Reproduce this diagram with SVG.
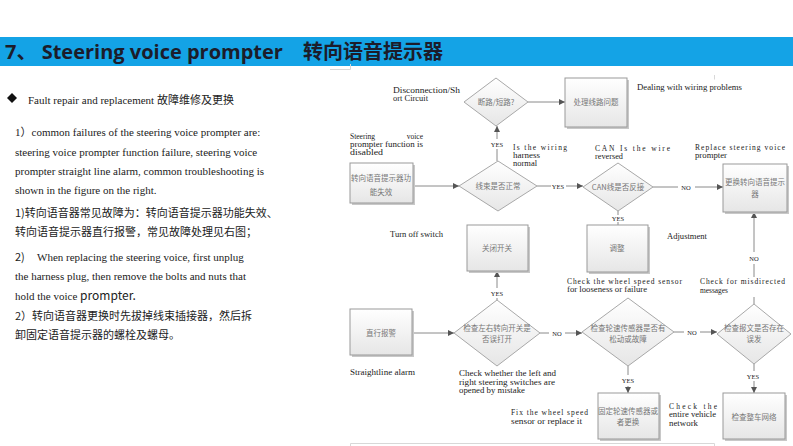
<svg xmlns="http://www.w3.org/2000/svg" width="793" height="446" viewBox="0 0 793 446">
<defs>
<linearGradient id="gb" x1="0" y1="0" x2="0" y2="1"><stop offset="0" stop-color="#ffffff"/><stop offset="1" stop-color="#e6e6e6"/></linearGradient>
<marker id="ah" viewBox="0 0 10 10" refX="10" refY="5" markerWidth="6" markerHeight="6" markerUnits="userSpaceOnUse" orient="auto"><path d="M0,0 L10,5 L0,10 z" fill="#555"/></marker>
<style>
.hd{font-family:"Open Sans","Noto Sans","Noto Sans CJK SC",sans-serif;font-weight:bold;font-size:20px;fill:#1c1c2a}
.en{font-family:"Liberation Serif","Noto Sans CJK SC",serif;font-size:11px;fill:#222}
.cn{font-family:"Noto Sans CJK SC","Noto Sans",sans-serif;font-size:11px;fill:#222}
.box{fill:url(#gb);stroke:#999;stroke-width:1}
.sh{fill:#c8c8c8}
.dia{fill:url(#gb);stroke:#a8a8a8;stroke-width:1}
.bt{font-family:"Noto Sans CJK SC",sans-serif;font-size:7.5px;fill:#777;text-anchor:middle}
.lb{font-family:"Liberation Serif",serif;font-size:7.5px;fill:#1a1a1a}
.yn{font-family:"Liberation Serif",serif;font-size:6.5px;fill:#222;text-anchor:middle}
.ln{fill:none;stroke:#8a8a8a;stroke-width:1}
.fr{fill:none;stroke:#d8d8d8;stroke-width:1}
</style>
</defs>
<rect width="793" height="446" fill="#ffffff"/>
<rect x="0" y="37" width="793" height="29" fill="#14a3e6"/>
<text class="hd" x="5" y="59">7、 Steering voice prompter<tspan x="303">转向语音提示器</tspan></text>

<g id="left-text">
<path d="M12,93 L17,98 L12,103 L7,98 z" fill="#111"/>
<text class="en" x="28" y="104">Fault repair and replacement <tspan class="cn">故障维修及更换</tspan></text>
<text class="en" x="15" y="136">1）common failures of the steering voice prompter are:</text>
<text class="en" x="15" y="156">steering voice prompter function failure, steering voice</text>
<text class="en" x="15" y="175">prompter straight line alarm, common troubleshooting is</text>
<text class="en" x="15" y="194">shown in the figure on the right.</text>
<text class="cn" x="15" y="217">1)转向语音器常见故障为：转向语音提示器功能失效、</text>
<text class="cn" x="15" y="236">转向语音提示器直行报警，常见故障处理见右图；</text>
<text class="en" x="15" y="261"><tspan class="cn">2)</tspan><tspan x="37">When replacing the steering voice, first unplug</tspan></text>
<text class="en" x="15" y="280">the harness plug, then remove the bolts and nuts that</text>
<text class="en" x="15" y="300">hold the voice <tspan class="cn" style="font-size:12px">prompter.</tspan></text>
<text class="cn" x="15" y="320">2）转向语音器更换时先拔掉线束插接器，然后拆</text>
<text class="cn" x="15" y="339">卸固定语音提示器的螺栓及螺母。</text>
</g>

<g id="frame">
<path class="fr" d="M330,69.5 H350.5 V64 M714.5,75 V79.5 M350.5,446 V443.5 H714.5 V446"/>
</g>

<g id="connectors">
<line class="ln" x1="528" y1="102" x2="565" y2="102" marker-end="url(#ah)"/>
<line class="ln" x1="413" y1="186" x2="459" y2="186" marker-end="url(#ah)"/>
<line class="ln" x1="497" y1="161" x2="497" y2="149"/>
<line class="ln" x1="497" y1="139" x2="497" y2="126" marker-end="url(#ah)"/>
<line class="ln" x1="537" y1="186" x2="551" y2="186"/>
<line class="ln" x1="566" y1="186" x2="583" y2="186" marker-end="url(#ah)"/>
<line class="ln" x1="653" y1="187" x2="678" y2="187"/>
<line class="ln" x1="695" y1="187" x2="723" y2="187" marker-end="url(#ah)"/>
<line class="ln" x1="618" y1="211" x2="618" y2="215"/>
<line class="ln" x1="618" y1="222" x2="618" y2="225"/>
<line class="ln" x1="754" y1="252" x2="754" y2="212" marker-end="url(#ah)"/>
<line class="ln" x1="754" y1="264" x2="754" y2="277"/>
<line class="ln" x1="754" y1="297" x2="754" y2="304"/>
<line class="ln" x1="412" y1="333" x2="454" y2="333" marker-end="url(#ah)"/>
<line class="ln" x1="497" y1="300" x2="497" y2="298"/>
<line class="ln" x1="497" y1="288" x2="497" y2="271" marker-end="url(#ah)"/>
<line class="ln" x1="540" y1="333" x2="549" y2="333"/>
<line class="ln" x1="565" y1="333" x2="582" y2="333" marker-end="url(#ah)"/>
<line class="ln" x1="674" y1="332" x2="684" y2="332"/>
<line class="ln" x1="700" y1="332" x2="717" y2="332" marker-end="url(#ah)"/>
<line class="ln" x1="628" y1="366" x2="628" y2="375"/>
<line class="ln" x1="628" y1="386" x2="628" y2="393" marker-end="url(#ah)"/>
<line class="ln" x1="754" y1="364" x2="754" y2="371"/>
<line class="ln" x1="754" y1="381" x2="754" y2="393" marker-end="url(#ah)"/>
</g>

<g id="n-duanlu"><path class="dia" d="M496,78 L528,102 L496,126 L464,102 z"/><text class="bt" x="496" y="105">断路/短路?</text></g>
<g id="n-chuli"><rect class="sh" x="567" y="80" width="62" height="49"/><rect class="box" x="565" y="78" width="62" height="49"/><text class="bt" x="596" y="105">处理线路问题</text></g>
<g id="n-gongneng"><rect class="sh" x="352" y="165" width="63" height="40"/><rect class="box" x="350" y="163" width="63" height="40"/><text class="bt" x="381" y="181">转向语音提示器功</text><text class="bt" x="381" y="195">能失效</text></g>
<g id="n-xianshu"><path class="dia" d="M498,161 L537,186 L498,211 L459,186 z"/><text class="bt" x="498" y="189">线束是否正常</text></g>
<g id="n-can"><path class="dia" d="M618,163 L653,187 L618,211 L583,187 z"/><text class="bt" x="618" y="190">CAN线是否反接</text></g>
<g id="n-genghuan"><rect class="sh" x="725" y="166" width="64" height="48"/><rect class="box" x="723" y="164" width="64" height="48"/><text class="bt" x="755" y="185">更换转向语音提示</text><text class="bt" x="755" y="197">器</text></g>
<g id="n-tiaozheng"><rect class="sh" x="589" y="227" width="61" height="47"/><rect class="box" x="587" y="225" width="61" height="47"/><text class="bt" x="617" y="251">调整</text></g>
<g id="n-guanbi"><rect class="sh" x="469" y="227" width="61" height="46"/><rect class="box" x="467" y="225" width="61" height="46"/><text class="bt" x="497" y="251">关闭开关</text></g>
<g id="n-zhixing"><rect class="sh" x="352" y="311" width="62" height="46"/><rect class="box" x="350" y="309" width="62" height="46"/><text class="bt" x="381" y="336">直行报警</text></g>
<g id="n-kaiguan"><path class="dia" d="M497,300 L540,333 L497,366 L454,333 z"/><text class="bt" x="497" y="331">检查左右转向开关是</text><text class="bt" x="497" y="342">否误打开</text></g>
<g id="n-lunsu"><path class="dia" d="M628,298 L674,332 L628,366 L582,332 z"/><text class="bt" x="628" y="331">检查轮速传感器是否有</text><text class="bt" x="628" y="342">松动或故障</text></g>
<g id="n-baowen"><path class="dia" d="M754,304 L791,334 L754,364 L717,334 z"/><text class="bt" x="754" y="331">检查报文是否存在</text><text class="bt" x="754" y="342">误发</text></g>
<g id="n-guding"><rect class="sh" x="600" y="395" width="61" height="46"/><rect class="box" x="598" y="393" width="61" height="46"/><text class="bt" x="628" y="414">固定轮速传感器或</text><text class="bt" x="628" y="425">者更换</text></g>
<g id="n-wangluo"><rect class="sh" x="725" y="395" width="62" height="46"/><rect class="box" x="723" y="393" width="62" height="46"/><text class="bt" x="754" y="420">检查整车网络</text></g>

<g id="labels">
<text class="yn" x="497" y="146.5">YES</text>
<text class="yn" x="558" y="189">YES</text>
<text class="yn" x="686" y="189.5">NO</text>
<text class="yn" x="618" y="221">YES</text>
<text class="yn" x="754" y="260.5">NO</text>
<text class="yn" x="497" y="295.5">YES</text>
<text class="yn" x="557" y="335.5">NO</text>
<text class="yn" x="692" y="334.5">NO</text>
<text class="yn" x="628" y="383">YES</text>
<text class="yn" x="753" y="378.5">YES</text>

<text class="lb" x="393" y="92.5" textLength="67" lengthAdjust="spacingAndGlyphs">Disconnection/Sh</text>
<text class="lb" x="393" y="100.5" textLength="35" lengthAdjust="spacingAndGlyphs">ort Circuit</text>
<text class="lb" x="637" y="89.5" textLength="105" lengthAdjust="spacingAndGlyphs">Dealing with wiring problems</text>
<text class="lb" x="350" y="139">Steering</text>
<text class="lb" x="423" y="139" text-anchor="end">voice</text>
<text class="lb" x="350" y="147" textLength="73" lengthAdjust="spacingAndGlyphs">prompter function is</text>
<text class="lb" x="350" y="155" textLength="33" lengthAdjust="spacingAndGlyphs">disabled</text>
<text class="lb" x="513" y="150" textLength="54" lengthAdjust="spacing">Is the wiring</text>
<text class="lb" x="513" y="158" textLength="27" lengthAdjust="spacingAndGlyphs">harness</text>
<text class="lb" x="513" y="166" textLength="24" lengthAdjust="spacingAndGlyphs">normal</text>
<text class="lb" x="595" y="151" textLength="75" lengthAdjust="spacing">CAN Is the wire</text>
<text class="lb" x="595" y="159" textLength="28" lengthAdjust="spacingAndGlyphs">reversed</text>
<text class="lb" x="695" y="150" textLength="90" lengthAdjust="spacing">Replace steering voice</text>
<text class="lb" x="695" y="158" textLength="32" lengthAdjust="spacingAndGlyphs">prompter</text>
<text class="lb" x="390" y="236.5" textLength="53" lengthAdjust="spacingAndGlyphs">Turn off switch</text>
<text class="lb" x="667" y="238.5" textLength="40" lengthAdjust="spacingAndGlyphs">Adjustment</text>
<text class="lb" x="567" y="283.5" textLength="115" lengthAdjust="spacing">Check the wheel speed sensor</text>
<text class="lb" x="567" y="292" textLength="80" lengthAdjust="spacingAndGlyphs">for looseness or failure</text>
<text class="lb" x="700" y="284" textLength="85" lengthAdjust="spacing">Check for misdirected</text>
<text class="lb" x="700" y="293" textLength="28" lengthAdjust="spacingAndGlyphs">messages</text>
<text class="lb" x="350" y="374.5" textLength="65" lengthAdjust="spacingAndGlyphs">Straightline alarm</text>
<text class="lb" x="459" y="376" textLength="97" lengthAdjust="spacingAndGlyphs">Check whether the left and</text>
<text class="lb" x="459" y="384.5" textLength="96" lengthAdjust="spacingAndGlyphs">right steering switches are</text>
<text class="lb" x="459" y="393" textLength="66" lengthAdjust="spacingAndGlyphs">opened by mistake</text>
<text class="lb" x="511" y="415" textLength="77" lengthAdjust="spacing">Fix the wheel speed</text>
<text class="lb" x="511" y="423.5" textLength="71" lengthAdjust="spacingAndGlyphs">sensor or replace it</text>
<text class="lb" x="669" y="409" textLength="48" lengthAdjust="spacing">Check the</text>
<text class="lb" x="669" y="417" textLength="47" lengthAdjust="spacingAndGlyphs">entire vehicle</text>
<text class="lb" x="669" y="425.5" textLength="29" lengthAdjust="spacingAndGlyphs">network</text>
</g>
</svg>
